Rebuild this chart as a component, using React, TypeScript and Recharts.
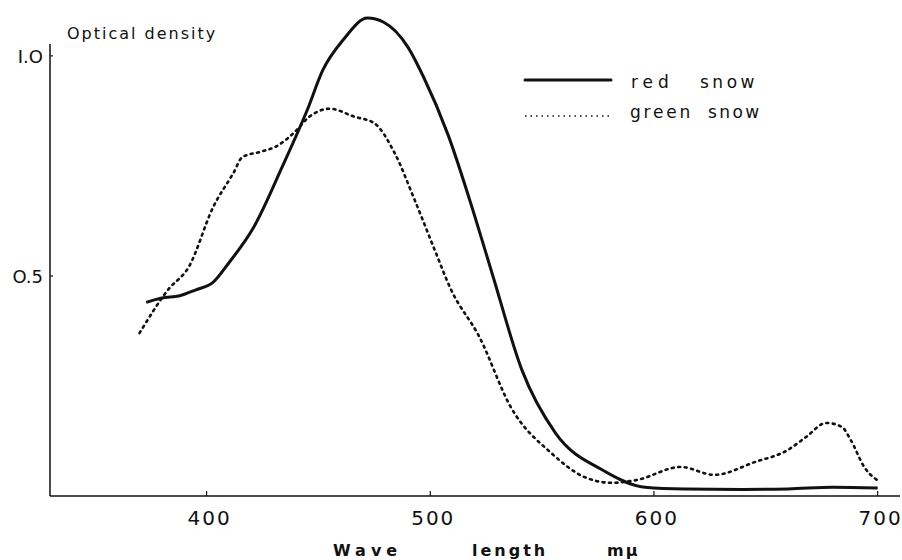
import React from "react";
import { LineChart, Line, XAxis, YAxis, Label, ReferenceLine } from "recharts";

const FONT = '"DejaVu Sans", Verdana, sans-serif';
const INK = "#111";

// wavelength (mµ) and optical density
const redWave = [373, 380, 388, 395, 403, 410, 421, 434, 445, 452, 461, 472, 479, 490, 497, 508, 520, 528, 541, 556, 577, 596, 614, 640, 660, 680, 700];
const redDensity = [0.44, 0.45, 0.455, 0.468, 0.486, 0.53, 0.61, 0.75, 0.877, 0.968, 1.036, 1.086, 1.077, 1.02, 0.952, 0.82, 0.634, 0.5, 0.286, 0.143, 0.059, 0.02, 0.016, 0.015, 0.016, 0.02, 0.018];

const greenWave = [370, 383, 392, 403, 412, 416, 424, 431, 439, 446, 455, 466, 475, 484, 493, 502, 509, 522, 536, 554, 569, 581, 592, 612, 627, 645, 660, 668, 677, 684, 688, 694, 701];
const greenDensity = [0.37, 0.47, 0.52, 0.657, 0.734, 0.77, 0.782, 0.794, 0.825, 0.862, 0.88, 0.862, 0.847, 0.78, 0.673, 0.559, 0.472, 0.361, 0.202, 0.098, 0.043, 0.03, 0.036, 0.066, 0.048, 0.077, 0.105, 0.134, 0.166, 0.157, 0.127, 0.066, 0.032];

const xTicks = [400, 500, 600, 700];
const yTicks = [0.5, 1.0];
const yTickLabels: Record<string, string> = { "0.5": "O.5", "1": "I.O" };
const xMin = 330;
const yAxisTop = 1.027;

const redData = redWave.map((x, i) => ({ x, y: redDensity[i] }));
const greenData = greenWave.map((x, i) => ({ x, y: greenDensity[i] }));

const XTick = (props: any) => {
  const { x, y, payload } = props;
  return (
    <g>
      <line x1={x} x2={x} y1={y} y2={y - 5} stroke={INK} strokeWidth={1.2} />
      <text x={x + 3} y={y + 29} textAnchor="middle" fontFamily={FONT} fontSize={20} letterSpacing={2} fill={INK}>
        {payload.value}
      </text>
    </g>
  );
};

const YTick = (props: any) => {
  const { x, y, payload } = props;
  return (
    <g>
      <line x1={x} x2={x + 3} y1={y} y2={y} stroke={INK} strokeWidth={1.2} />
      <text x={x - 7} y={y + 7} textAnchor="end" fontFamily={FONT} fontSize={18} fill={INK}>
        {yTickLabels[String(payload.value)]}
      </text>
    </g>
  );
};

const LegendBox = () => (
  <svg width={270} height={70} style={{ position: "absolute", left: 520, top: 60, overflow: "visible" }}>
    <line x1={5} x2={91} y1={20} y2={20} stroke={INK} strokeWidth={3} strokeLinecap="round" />
    <text x={111} y={28} fontFamily={FONT} fontSize={17} letterSpacing={5} fill={INK}>red</text>
    <text x={180} y={28} fontFamily={FONT} fontSize={17} letterSpacing={3.5} fill={INK}>snow</text>
    <line x1={5} x2={91} y1={56} y2={56} stroke={INK} strokeWidth={1.6} strokeDasharray="1.5 4" />
    <text x={110} y={58} fontFamily={FONT} fontSize={17} letterSpacing={2.8} fill={INK}>green</text>
    <text x={188} y={58} fontFamily={FONT} fontSize={17} letterSpacing={2.4} fill={INK}>snow</text>
  </svg>
);

export default function App() {
  return (
    <div style={{ position: "absolute", left: 0, top: 0, width: 902, height: 560, background: "#fff" }}>
      <LineChart width={902} height={560} margin={{ top: 0, right: 2, bottom: 0, left: 0 }}>
        <XAxis
          type="number"
          dataKey="x"
          domain={[xMin, 710]}
          ticks={xTicks}
          allowDataOverflow
          height={64}
          tickSize={0}
          tickMargin={0}
          tick={<XTick />}
          axisLine={{ stroke: INK, strokeWidth: 1.6 }}
          tickLine={false}
        >
          <Label
            content={(p: any) => {
              const vb = p.viewBox;
              const base = vb.y + 60;
              return (
                <g fontFamily={FONT} fontSize={16} fontWeight="bold" fill={INK}>
                  <text x={333} y={base} letterSpacing={5}>Wave</text>
                  <text x={472} y={base} letterSpacing={3}>length</text>
                  <text x={607} y={base} letterSpacing={2}>mµ</text>
                </g>
              );
            }}
          />
        </XAxis>
        <YAxis
          type="number"
          domain={[0, 1.127]}
          ticks={yTicks}
          allowDataOverflow
          width={50}
          tickSize={0}
          tickMargin={0}
          tick={<YTick />}
          axisLine={false}
          tickLine={false}
        >
          <Label
            content={() => (
              <text x={67} y={39} fontFamily={FONT} fontSize={16} letterSpacing={2} fill={INK}>
                Optical density
              </text>
            )}
          />
        </YAxis>
        <ReferenceLine
          segment={[{ x: xMin, y: 0 }, { x: xMin, y: yAxisTop }]}
          stroke={INK}
          strokeWidth={1.5}
        />
        <Line
          name="red snow"
          data={redData}
          dataKey="y"
          type="monotone"
          stroke={INK}
          strokeWidth={3}
          dot={false}
          isAnimationActive={false}
        />
        <Line
          name="green snow"
          data={greenData}
          dataKey="y"
          type="monotone"
          stroke={INK}
          strokeWidth={2.6}
          strokeDasharray="2 4.5"
          strokeLinecap="round"
          dot={false}
          isAnimationActive={false}
        />
      </LineChart>
      <LegendBox />
    </div>
  );
}
